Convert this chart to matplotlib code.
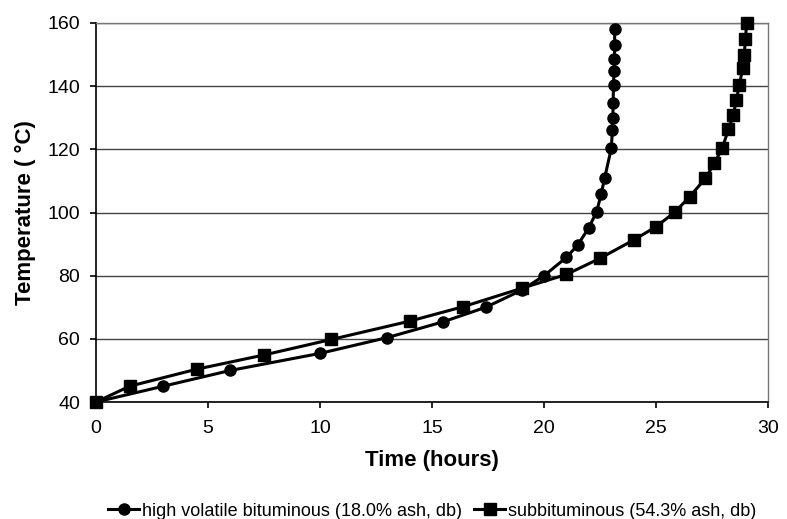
import matplotlib
matplotlib.use("Agg")
import matplotlib.pyplot as plt

plt.rcParams['font.family'] = ['Liberation Sans', 'DejaVu Sans']

hvb_time = [0, 3.0, 6.0, 10.0, 13.0, 15.5, 17.4, 19.0, 20.0, 21.0, 21.5, 22.0, 22.35, 22.55, 22.7,
            23.0, 23.05, 23.07, 23.08, 23.1, 23.12, 23.14, 23.15, 23.15]
hvb_temp = [40, 45, 50, 55.4, 60.4, 65.4, 70, 75.4, 80, 85.8, 89.7, 95.2, 100.3, 105.9, 110.8,
            120.3, 126.1, 129.8, 134.6, 140.5, 144.7, 148.5, 153, 158]

sub_time = [0, 1.5, 4.5, 7.5, 10.5, 14.0, 16.4, 19.0, 21.0, 22.5, 24.0, 25.0, 25.85, 26.5,
            27.2, 27.6, 27.95, 28.23, 28.45, 28.58, 28.72, 28.86, 28.94, 28.98, 29.05]
sub_temp = [40, 45, 50.4, 54.9, 59.8, 65.6, 70.2, 76, 80.4, 85.5, 91.3, 95.5, 100.2, 105,
            110.8, 115.6, 120.3, 126.3, 130.9, 135.6, 140.4, 145.6, 149.8, 154.8, 160]

series_labels = ['high volatile bituminous (18.0% ash, db)', 'subbituminous (54.3% ash, db)']

fig = plt.figure(figsize=(7.87, 5.19), dpi=100)
ax = fig.add_axes([0.122, 0.2254, 0.854, 0.7303])

ax.plot(hvb_time, hvb_temp, color='black', lw=2.2, marker='o', ms=8, label=series_labels[0], clip_on=False, zorder=3)
ax.plot(sub_time, sub_temp, color='black', lw=2.2, marker='s', ms=8, label=series_labels[1], clip_on=False, zorder=3)

ax.set_xlim(0, 30)
ax.set_ylim(40, 160)
ax.set_xticks(range(0, 31, 5))
ax.set_yticks(range(40, 161, 20))
ax.yaxis.grid(True, color='#444444', lw=1)
ax.set_axisbelow(True)
for s in ['top', 'right']:
    ax.spines[s].set_color('#777777')
    ax.spines[s].set_linewidth(1)
for s in ['left', 'bottom']:
    ax.spines[s].set_color('black')
    ax.spines[s].set_linewidth(1.2)
ax.tick_params(axis='both', labelsize=14, direction='out', length=4.5, width=1.2)
ax.tick_params(axis='x', pad=8.5)
ax.tick_params(axis='y', pad=7)

ax.set_xlabel('Time (hours)', fontsize=16, fontweight='bold', labelpad=9)
ax.set_ylabel('Temperature ( \u00b0C)', fontsize=16, fontweight='bold', labelpad=8)

ax.legend(loc='center', bbox_to_anchor=(0.5, -0.2876), bbox_transform=ax.transAxes, ncol=2,
          frameon=False, fontsize=13, handlelength=1.7, handletextpad=0.15,
          columnspacing=0.7, borderaxespad=0, borderpad=0)

fig.savefig('out.png', dpi=100)
